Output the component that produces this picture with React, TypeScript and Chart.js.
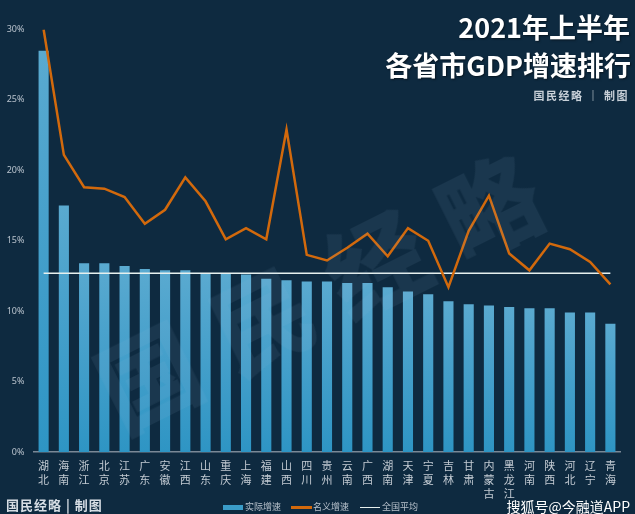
import React, { useEffect, useRef } from "react";
import { Chart, registerables } from "chart.js";

Chart.register(...registerables);

const categories: string[] = [
  "湖北", "海南", "浙江", "北京", "江苏", "广东", "安徽", "江西", "山东", "重庆",
  "上海", "福建", "山西", "四川", "贵州", "云南", "广西", "湖南", "天津", "宁夏",
  "吉林", "甘肃", "内蒙古", "黑龙江", "河南", "陕西", "河北", "辽宁", "青海",
];

const realGrowth: number[] = [
  28.5, 17.5, 13.4, 13.4, 13.2, 13.0, 12.9, 12.9, 12.7, 12.7,
  12.6, 12.3, 12.2, 12.1, 12.1, 12.0, 12.0, 11.7, 11.4, 11.2,
  10.7, 10.5, 10.4, 10.3, 10.2, 10.2, 9.9, 9.9, 9.1,
];

const nominalGrowth: number[] = [
  30.0, 21.1, 18.8, 18.7, 18.1, 16.2, 17.2, 19.5, 17.8, 15.1,
  15.9, 15.1, 22.9, 14.0, 13.6, 14.5, 15.5, 13.9, 15.9, 15.0,
  11.7, 15.7, 18.2, 14.1, 12.9, 14.8, 14.4, 13.5, 11.9,
];

const NATIONAL_AVG = 12.7;
const nationalAvg: number[] = categories.map(() => NATIONAL_AVG);

const yTicks: number[] = [0, 5, 10, 15, 20, 25, 30];

const BG = "#0e2a40";

export default function App() {
  const canvasRef = useRef<HTMLCanvasElement | null>(null);

  useEffect(() => {
    document.body.style.margin = "0";
    const canvas = canvasRef.current;
    if (!canvas) return;

    const chart = new Chart(canvas, {
      type: "bar",
      data: {
        labels: categories.map((c) => c.split("")),
        datasets: [
          {
            type: "line",
            label: "名义增速",
            data: nominalGrowth,
            borderColor: "#d2690c",
            borderWidth: 2.5,
            pointRadius: 0,
            tension: 0,
            order: 0,
          } as any,
          {
            type: "line",
            label: "全国平均",
            data: nationalAvg,
            borderColor: "#e6f0ee",
            borderWidth: 1.5,
            pointRadius: 0,
            tension: 0,
            order: 1,
          } as any,
          {
            type: "bar",
            label: "实际增速",
            data: realGrowth,
            order: 2,
            categoryPercentage: 1,
            barPercentage: 0.5,
            backgroundColor: (ctx: any) => {
              const chart = ctx.chart;
              const area = chart.chartArea;
              const ys = chart.scales?.y;
              if (!area || !ys || ctx.raw == null) return "#3a9cc8";
              const top = ys.getPixelForValue(ctx.raw);
              const bottom = ys.getPixelForValue(0);
              if (!isFinite(top) || !isFinite(bottom) || bottom - top < 1) return "#3a9cc8";
              const g = chart.ctx.createLinearGradient(0, top, 0, bottom);
              g.addColorStop(0, "#5aaad0");
              g.addColorStop(0.35, "#4aa2cc");
              g.addColorStop(1, "#2e95c4");
              return g;
            },
          } as any,
        ],
      },
      options: {
        responsive: false,
        animation: false,
        layout: { padding: { top: 29.5, right: 14.5, left: 0, bottom: 0 } },
        plugins: {
          legend: { display: false },
          tooltip: { enabled: false },
        },
        scales: {
          x: {
            grid: { display: false, drawTicks: false },
            border: { display: true, color: "#7a8896", width: 1.5 },
            ticks: {
              color: "#c3cbd3",
              font: { family: "'Noto Sans CJK SC', sans-serif", size: 11, lineHeight: 1.27 },
              padding: 7,
              maxRotation: 0,
              autoSkip: false,
            },
            afterFit: (scale: any) => {
              scale.height = 62;
            },
          },
          y: {
            min: 0,
            max: 30,
            grid: { display: false, drawTicks: false },
            border: { display: false },
            afterBuildTicks: (scale: any) => {
              scale.ticks = yTicks.map((v) => ({ value: v }));
            },
            ticks: {
              color: "#b9c3cd",
              font: { family: "'Noto Sans', 'DejaVu Sans', sans-serif", size: 9 },
              padding: 9,
              callback: (v: any) => `${v}%`,
            },
            afterFit: (scale: any) => {
              scale.width = 33.5;
            },
          },
        },
      },
    });

    return () => {
      chart.destroy();
    };
  }, []);

  const cjk = "'Noto Sans CJK SC', 'Noto Sans', sans-serif";

  const legendText: React.CSSProperties = {
    position: "absolute",
    top: 501,
    fontFamily: cjk,
    fontSize: 9,
    color: "#b8c2cc",
    lineHeight: "12px",
    whiteSpace: "nowrap",
  };

  return (
    <div
      style={{
        position: "relative",
        width: 635,
        height: 514,
        background: BG,
        overflow: "hidden",
      }}
    >
      <canvas
        ref={canvasRef}
        width={635}
        height={514}
        style={{ position: "absolute", left: 0, top: 0, width: 635, height: 514, zIndex: 1 }}
      />

      {/* watermark */}
      <div
        style={{
          position: "absolute",
          left: 317,
          top: 288,
          fontFamily: cjk,
          fontWeight: 900,
          fontSize: 100,
          lineHeight: "100px",
          letterSpacing: 27,
          paddingLeft: 27,
          color: "rgba(150,190,215,0.085)",
          transform: "translate(-50%, -50%) rotate(-26.6deg)",
          whiteSpace: "nowrap",
          pointerEvents: "none",
          zIndex: 2,
        }}
      >
        国民经略
      </div>

      {/* titles */}
      <div
        style={{
          position: "absolute",
          right: 5,
          top: 10,
          fontFamily: cjk,
          fontWeight: 700,
          fontSize: 27,
          lineHeight: "34px",
          color: "#ffffff",
          textAlign: "right",
          whiteSpace: "nowrap",
          zIndex: 3,
          textShadow: "1px 1px 2px rgba(0,0,0,0.5)",
        }}
      >
        2021年上半年
      </div>
      <div
        style={{
          position: "absolute",
          right: 4,
          top: 47,
          fontFamily: cjk,
          fontWeight: 700,
          fontSize: 27,
          lineHeight: "36px",
          color: "#ffffff",
          textAlign: "right",
          whiteSpace: "nowrap",
          zIndex: 3,
          textShadow: "1px 1px 2px rgba(0,0,0,0.5)",
        }}
      >
        各省市GDP增速排行
      </div>
      <div
        style={{
          position: "absolute",
          right: 6,
          top: 87,
          fontFamily: cjk,
          fontWeight: 700,
          fontSize: 11,
          lineHeight: "16px",
          letterSpacing: 1.5,
          color: "#c8d0d8",
          whiteSpace: "nowrap",
          zIndex: 3,
        }}
      >
        国民经略 ｜ 制图
      </div>

      {/* bottom left credit */}
      <div
        style={{
          position: "absolute",
          left: 6,
          top: 496,
          fontFamily: cjk,
          fontWeight: 700,
          fontSize: 13,
          lineHeight: "18px",
          letterSpacing: 1,
          color: "#d6dde4",
          whiteSpace: "nowrap",
          zIndex: 3,
        }}
      >
        国民经略 | 制图
      </div>

      {/* legend */}
      <div style={{ position: "absolute", left: 223, top: 505, width: 20, height: 5, background: "#3a9cc8", zIndex: 3 }} />
      <div style={{ ...legendText, left: 245, zIndex: 3 }}>实际增速</div>
      <div style={{ position: "absolute", left: 291, top: 506, width: 21, height: 2.5, background: "#d2690c", zIndex: 3 }} />
      <div style={{ ...legendText, left: 313, zIndex: 3 }}>名义增速</div>
      <div style={{ position: "absolute", left: 360, top: 506.5, width: 20, height: 1.5, background: "#e6f0ee", zIndex: 3 }} />
      <div style={{ ...legendText, left: 382, zIndex: 3 }}>全国平均</div>

      {/* bottom right source */}
      <div
        style={{
          position: "absolute",
          right: 5,
          top: 497,
          fontFamily: cjk,
          fontSize: 14,
          lineHeight: "18px",
          color: "#ffffff",
          whiteSpace: "nowrap",
          zIndex: 3,
        }}
      >
        搜狐号@今融道APP
      </div>
    </div>
  );
}
